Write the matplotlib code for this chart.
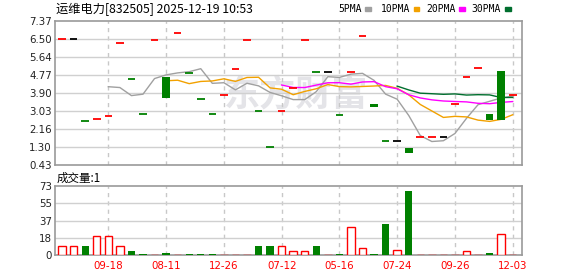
import matplotlib
matplotlib.use('Agg')
import matplotlib.pyplot as plt
from matplotlib.patches import Rectangle
import numpy as np
import pandas as pd

plt.rcParams['font.family'] = ['DejaVu Sans', 'Noto Sans CJK SC']

# 日K数据 (开盘/收盘, 成交量)
close = [6.50, 6.50, 2.58, 2.68, 2.79, 6.30, 4.56, 2.92, 6.44, 3.67,
         6.78, 4.85, 3.64, 2.92, 3.82, 5.06, 6.44, 3.02, 1.33, 3.02,
         4.14, 6.44, 4.93, 4.93, 2.84, 4.93, 6.63, 3.24, 1.62, 1.62,
         1.02, 1.80, 1.81, 1.81, 3.36, 4.66, 5.09, 2.62, 2.62, 3.82]
open_ = [6.50, 6.50, 2.58, 2.68, 2.79, 6.30, 4.56, 2.92, 6.44, 4.67,
         6.78, 4.85, 3.64, 2.92, 3.82, 5.06, 6.44, 3.02, 1.33, 3.02,
         4.14, 6.44, 4.93, 4.93, 2.84, 4.93, 6.63, 3.40, 1.62, 1.62,
         1.25, 1.80, 1.81, 1.81, 3.36, 4.66, 5.09, 2.90, 4.96, 3.82]
volume = [9.5, 9.5, 9.5, 20, 20, 9.5, 4.5, 1.2, 0.8, 2.3,
          0.8, 1.2, 1.2, 1.2, 0.8, 0.8, 0.8, 9.8, 9.8, 9.5,
          4.2, 4.2, 9.8, 0.8, 1.2, 29.5, 7.4, 1.2, 33, 5.3,
          67.8, 0.8, 0.8, 0.8, 0.8, 4.2, 0.8, 2.0, 22.1, 0.8]
date_labels = ['09-18', '08-11', '12-26', '07-12', '05-16', '07-24', '09-26', '12-03']
date_pos = [4, 9, 14, 19, 24, 29, 34, 39]
price_ticks = ['0.43', '1.30', '2.16', '3.03', '3.90', '4.77', '5.64', '6.50', '7.37']
vol_ticks = ['0', '18', '37', '55', '73']
ma_windows = [5, 10, 20, 30]
ma_names = ['5PMA', '10PMA', '20PMA', '30PMA']

df = pd.DataFrame({'open': open_, 'close': close, 'vol': volume})
RED, GREEN, BLACK = '#ff0000', '#008000', '#000000'
ma_colors = ['#a0a0a0', '#f2a100', '#ff00ff', '#006e2e']
grid_c = '#d0d0d0'
frame_c = '#9a9a9a'

fig = plt.figure(figsize=(5.78, 2.76), dpi=100)
W, H = 578, 276
ax = fig.add_axes([55.3 / W, 1 - 165.3 / H, 467 / W, 144.3 / H])
axv = fig.add_axes([55.3 / W, 1 - 255.3 / H, 467 / W, 69.3 / H])

x = np.arange(len(df))
for a in (ax, axv):
    a.set_xlim(-0.59, 39.83)
    for s in a.spines.values():
        s.set_color(frame_c)
        s.set_linewidth(1.2)
    for p in date_pos:
        a.axvline(p, color='#c8c8c8', lw=1, ls=(0, (3, 3)), zorder=0.6)
    a.tick_params(length=0, pad=2.5, labelsize=7.4, colors='#222222')

# 价格
plo, phi = 0.43, 7.37
pt = np.linspace(plo, phi, 9)
ax.set_ylim(plo, phi)
ax.set_yticks(pt)
ax.set_yticklabels(price_ticks)
for v in pt[1:-1]:
    ax.axhline(v, color=grid_c, lw=1, zorder=0.6)
ax.set_xticks([])

# 水印
ax.text(0.515, 0.49, '东方财富', transform=ax.transAxes, ha='center', va='center',
        fontsize=26, fontweight='bold', color='#e4e4e8', family=['Noto Sans CJK SC'], zorder=0.5)

for w, c in zip(ma_windows, ma_colors):
    ma = df['close'].rolling(w).mean()
    ax.plot(x, ma, color=c, lw=1, zorder=2)

prev = None
for i, r in df.iterrows():
    o, c = r['open'], r['close']
    if o == c:
        if prev is None or c > prev:
            col = RED
        elif c < prev:
            col = GREEN
        else:
            col = BLACK
        ax.hlines(c, i - 0.33, i + 0.33, color=col, lw=1.3, zorder=3)
    elif c > o:
        ax.bar(i, c - o, bottom=o, width=0.66, facecolor='white', edgecolor=RED, lw=1, zorder=3)
    else:
        ax.bar(i, o - c, bottom=c, width=0.66, color=GREEN, lw=0, zorder=3)
    prev = c

# 成交量
vt = np.linspace(0, 73, 5)
axv.set_ylim(0, 73)
axv.set_yticks(vt)
axv.set_yticklabels(vol_ticks)
for v in vt[1:-1]:
    axv.axhline(v, color=grid_c, lw=1, zorder=0.6)
axv.set_xticks(date_pos)
axv.set_xticklabels(date_labels, color=RED)
axv.tick_params(axis='x', pad=4)

for i in range(len(df)):
    up = i == 0 or df['close'][i] >= df['close'][i - 1]
    if up:
        axv.bar(i, df['vol'][i], width=0.64, facecolor='white', edgecolor=RED, lw=1, zorder=3)
    else:
        axv.bar(i, df['vol'][i], width=0.64, color=GREEN, lw=0, zorder=3)

fig.text(56 / W, 1 - 9 / H, '运维电力[832505] 2025-12-19 10:53', fontsize=8.8, va='center',
         family=['Noto Sans CJK SC', 'DejaVu Sans'])
fig.text(57 / W, 1 - 178 / H, '成交量:1', fontsize=8.3, va='center',
         family=['Noto Sans CJK SC', 'DejaVu Sans'])

# 图例
leg_x = [338, 381, 426, 471]
sq_x = [365, 413.5, 459, 505]
for name, lx, sx, c in zip(ma_names, leg_x, sq_x, ma_colors):
    fig.text(lx / W, 1 - 8.5 / H, name, fontsize=7, va='center', family='DejaVu Sans Mono')
    fig.patches.append(Rectangle((sx / W, 1 - 10.5 / H), 5.7 / W, 3.5 / H, color=c,
                                 transform=fig.transFigure, figure=fig))

fig.savefig('out.png', dpi=100)
